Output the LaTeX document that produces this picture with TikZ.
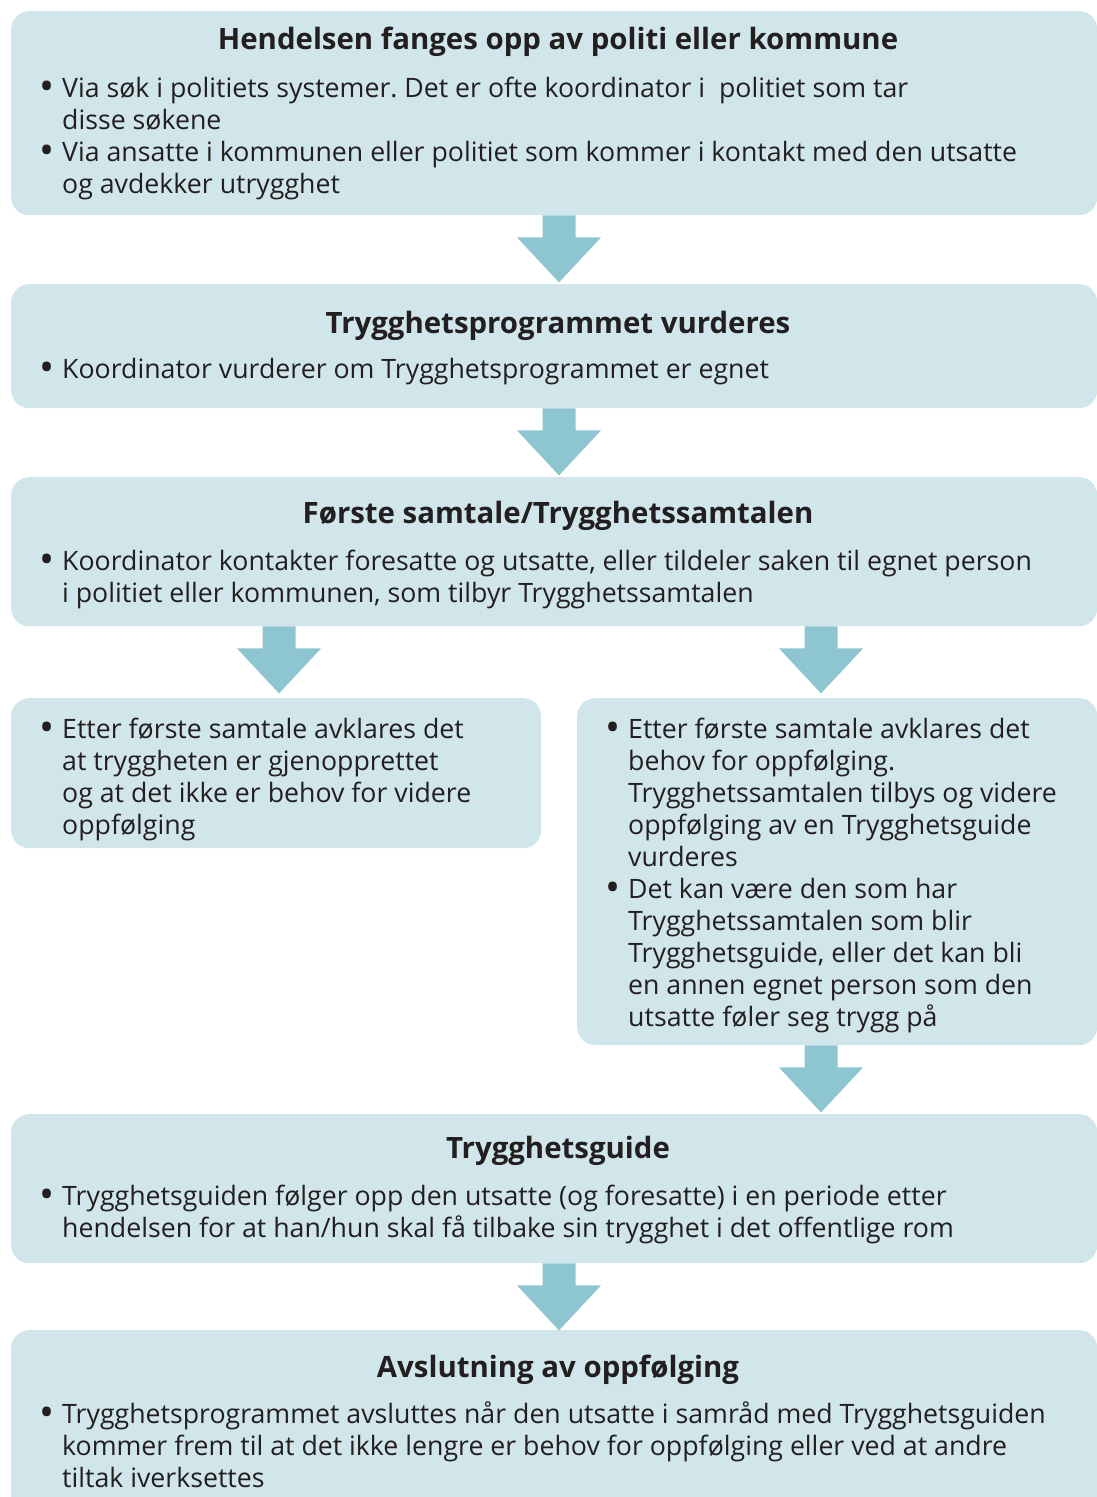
\documentclass[tikz,border=0pt]{standalone}
\usepackage{fontspec}
\usepackage{graphicx}
\setmainfont{Open Sans}
\usetikzlibrary{calc}
\definecolor{boxc}{HTML}{D0E6EB}
\definecolor{arrc}{HTML}{8DC6D1}
\definecolor{txtc}{HTML}{231F20}
\frenchspacing
\newcommand\nl{\hfil\break}
\newcommand\bitem[1]{\noindent\hangindent=19pt\hbox to 19pt{\hskip-4pt\raisebox{-3.5pt}{\scalebox{1.5}{\textbullet}}\hfill}#1\par}
\newcommand\blockarr[3]{%
  \fill[arrc] ($(#1|-#2.south)+(-16.5,0)$) -- ++(33,0) -- ++(0,22) -- ++(25.5,0)
    -- ($(#1|-#2.south)+(0,67)$) -- ++(-42,-45) -- ++(25.5,0) -- cycle;}
\tikzset{
  box/.style={fill=boxc, draw=none, rounded corners=18pt, anchor=north west, inner sep=0pt},
  ttl/.style={font=\fontsize{29.4}{32}\selectfont\bfseries, text=txtc, anchor=base, inner sep=0pt},
  txt/.style={font=\fontsize{26.7}{32}\selectfont, text=txtc, anchor=base west, inner sep=0pt, align=left},
}
\begin{document}
\begin{tikzpicture}[x=1pt,y=-1pt]
\useasboundingbox (0,0) rectangle (1097,1497);
\clip (0,0) rectangle (1097,1497);
% boxes
\node[box, minimum width=1086pt, minimum height=204pt] (b1) at (11,11) {};
\node[box, minimum width=1086pt, minimum height=124pt] (b2) at (11,284) {};
\node[box, minimum width=1086pt, minimum height=149pt] (b3) at (11,477) {};
\node[box, minimum width=530pt, minimum height=150pt] (b4) at (11,698) {};
\node[box, minimum width=520pt, minimum height=347pt] (b5) at (577,698) {};
\node[box, minimum width=1086pt, minimum height=149pt] (b6) at (11,1114) {};
\node[box, minimum width=1086pt, minimum height=200pt] (b7) at (11,1330) {};
% arrow axes
\coordinate (ac) at (559,0);
\coordinate (al) at (279,0);
\coordinate (ar) at (821,0);
\blockarr{ac}{b1}{b2}
\blockarr{ac}{b2}{b3}
\blockarr{al}{b3}{b4}
\blockarr{ar}{b3}{b5}
\blockarr{ar}{b5}{b6}
\blockarr{ac}{b6}{b7}
% texts
\node[ttl] (t1) at (558,49) {Hendelsen fanges opp av politi eller kommune};
\node[txt] (x1) at (43,97) {\parbox[t]{1040pt}{
  \bitem{Via søk i politiets systemer. Det er ofte koordinator i\ \ politiet som tar\nl disse søkene}
  \bitem{Via ansatte i kommunen eller politiet som kommer i kontakt med den utsatte\nl og avdekker utrygghet}}};
\node[ttl] (t2) at (558,333) {Trygghetsprogrammet vurderes};
\node[txt] (x2) at (43,378) {\parbox[t]{1040pt}{
  \bitem{Koordinator vurderer om Trygghetsprogrammet er egnet}}};
\node[ttl] (t3) at (558,523) {Første samtale/Trygghetssamtalen};
\node[txt] (x3) at (43,570) {\parbox[t]{1040pt}{
  \bitem{Koordinator kontakter foresatte og utsatte, eller tildeler saken til egnet person\nl i politiet eller kommunen, som tilbyr Trygghetssamtalen}}};
\node[txt] (x4) at (43,738) {\parbox[t]{490pt}{
  \bitem{Etter første samtale avklares det\nl at tryggheten er gjenopprettet\nl og at det ikke er behov for videre\nl oppfølging}}};
\node[txt] (x5) at (609,738) {\parbox[t]{480pt}{
  \bitem{Etter første samtale avklares det\nl behov for oppfølging.\nl Trygghetssamtalen tilbys og videre\nl oppfølging av en Trygghetsguide\nl vurderes}
  \bitem{Det kan være den som har\nl Trygghetssamtalen som blir\nl Trygghetsguide, eller det kan bli\nl en annen egnet person som den\nl utsatte føler seg trygg på}}};
\node[ttl] (t6) at (558,1158) {Trygghetsguide};
\node[txt] (x6) at (43,1205) {\parbox[t]{1040pt}{
  \bitem{Trygghetsguiden følger opp den utsatte (og foresatte) i en periode etter\nl hendelsen for at han/hun skal få tilbake sin trygghet i det offentlige rom}}};
\node[ttl] (t7) at (558,1377) {Avslutning av oppfølging};
\node[txt] (x7) at (43,1423) {\parbox[t]{1040pt}{
  \bitem{Trygghetsprogrammet avsluttes når den utsatte i samråd med Trygghetsguiden\nl kommer frem til at det ikke lengre er behov for oppfølging eller ved at andre\nl tiltak iverksettes}}};
\end{tikzpicture}
\end{document}
